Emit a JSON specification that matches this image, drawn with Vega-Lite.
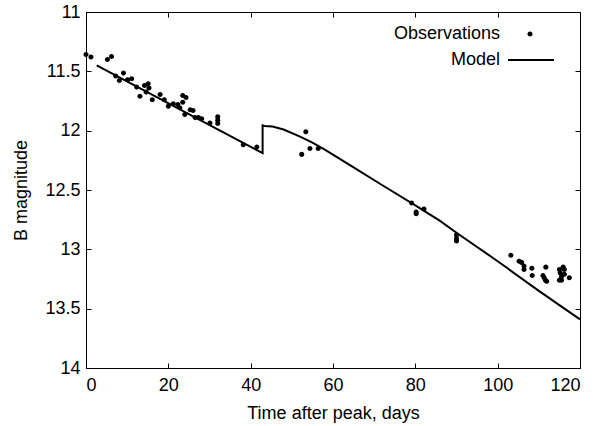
{
  "$schema": "https://vega.github.io/schema/vega-lite/v6.json",
  "width": 494,
  "height": 356,
  "autosize": "none",
  "padding": {"left": 86, "top": 12, "right": 25, "bottom": 58},
  "background": "white",
  "config": {
    "view": {"stroke": "black", "strokeWidth": 1},
    "font": "Liberation Sans",
    "axis": {
      "domain": false,
      "grid": false,
      "ticks": true,
      "tickColor": "black",
      "tickWidth": 1,
      "tickSize": 5,
      "offset": -5,
      "labelColor": "black",
      "labelFont": "Liberation Sans",
      "labelFontSize": 18,
      "titleFont": "Liberation Sans",
      "titleFontSize": 18,
      "titleFontWeight": "normal",
      "titleColor": "black"
    }
  },
  "datasets": {
    "model": [
      {"kind": "Model", "i": 0, "day": 2.6, "mag": 11.45},
      {"kind": "Model", "i": 1, "day": 42.9, "mag": 12.19},
      {"kind": "Model", "i": 2, "day": 42.9, "mag": 11.955},
      {"kind": "Model", "i": 3, "day": 43.4, "mag": 11.96},
      {"kind": "Model", "i": 4, "day": 45.3, "mag": 11.965},
      {"kind": "Model", "i": 5, "day": 48, "mag": 11.99},
      {"kind": "Model", "i": 6, "day": 52, "mag": 12.05},
      {"kind": "Model", "i": 7, "day": 55, "mag": 12.1},
      {"kind": "Model", "i": 8, "day": 58, "mag": 12.16},
      {"kind": "Model", "i": 9, "day": 65, "mag": 12.31},
      {"kind": "Model", "i": 10, "day": 72, "mag": 12.46},
      {"kind": "Model", "i": 11, "day": 80, "mag": 12.63},
      {"kind": "Model", "i": 12, "day": 86, "mag": 12.76},
      {"kind": "Model", "i": 13, "day": 90, "mag": 12.86},
      {"kind": "Model", "i": 14, "day": 100, "mag": 13.1},
      {"kind": "Model", "i": 15, "day": 110, "mag": 13.35},
      {"kind": "Model", "i": 16, "day": 120, "mag": 13.59}
    ],
    "obs": [
      {"series": "Observations", "day": 0, "mag": 11.358},
      {"series": "Observations", "day": 1.2, "mag": 11.38},
      {"series": "Observations", "day": 5.2, "mag": 11.4},
      {"series": "Observations", "day": 6.2, "mag": 11.375},
      {"series": "Observations", "day": 7.2, "mag": 11.54},
      {"series": "Observations", "day": 8.1, "mag": 11.577},
      {"series": "Observations", "day": 9.1, "mag": 11.515},
      {"series": "Observations", "day": 10.1, "mag": 11.571},
      {"series": "Observations", "day": 11.1, "mag": 11.563},
      {"series": "Observations", "day": 12.3, "mag": 11.633},
      {"series": "Observations", "day": 13.1, "mag": 11.71},
      {"series": "Observations", "day": 14.2, "mag": 11.62},
      {"series": "Observations", "day": 14.6, "mag": 11.675},
      {"series": "Observations", "day": 15.1, "mag": 11.605},
      {"series": "Observations", "day": 15.3, "mag": 11.64},
      {"series": "Observations", "day": 16.1, "mag": 11.74},
      {"series": "Observations", "day": 18.0, "mag": 11.695},
      {"series": "Observations", "day": 19.0, "mag": 11.74},
      {"series": "Observations", "day": 20.0, "mag": 11.795},
      {"series": "Observations", "day": 21.2, "mag": 11.773},
      {"series": "Observations", "day": 22.3, "mag": 11.78},
      {"series": "Observations", "day": 22.8, "mag": 11.807},
      {"series": "Observations", "day": 23.5, "mag": 11.703},
      {"series": "Observations", "day": 24.3, "mag": 11.72},
      {"series": "Observations", "day": 23.5, "mag": 11.76},
      {"series": "Observations", "day": 24.0, "mag": 11.863},
      {"series": "Observations", "day": 25.3, "mag": 11.823},
      {"series": "Observations", "day": 26.0, "mag": 11.83},
      {"series": "Observations", "day": 26.5, "mag": 11.89},
      {"series": "Observations", "day": 27.3, "mag": 11.89},
      {"series": "Observations", "day": 28.1, "mag": 11.9},
      {"series": "Observations", "day": 30.1, "mag": 11.936},
      {"series": "Observations", "day": 32.0, "mag": 11.884},
      {"series": "Observations", "day": 32.0, "mag": 11.912},
      {"series": "Observations", "day": 32.0, "mag": 11.94},
      {"series": "Observations", "day": 38.2, "mag": 12.118},
      {"series": "Observations", "day": 41.5, "mag": 12.138},
      {"series": "Observations", "day": 53.4, "mag": 12.01},
      {"series": "Observations", "day": 52.4, "mag": 12.2},
      {"series": "Observations", "day": 54.4, "mag": 12.15},
      {"series": "Observations", "day": 56.4, "mag": 12.15},
      {"series": "Observations", "day": 79.1, "mag": 12.61},
      {"series": "Observations", "day": 80.2, "mag": 12.685},
      {"series": "Observations", "day": 80.2, "mag": 12.7},
      {"series": "Observations", "day": 82.1, "mag": 12.66},
      {"series": "Observations", "day": 90.0, "mag": 12.88},
      {"series": "Observations", "day": 90.0, "mag": 12.91},
      {"series": "Observations", "day": 90.0, "mag": 12.93},
      {"series": "Observations", "day": 103.2, "mag": 13.05},
      {"series": "Observations", "day": 105.2, "mag": 13.1},
      {"series": "Observations", "day": 105.8, "mag": 13.11},
      {"series": "Observations", "day": 106.4, "mag": 13.14},
      {"series": "Observations", "day": 106.4, "mag": 13.17},
      {"series": "Observations", "day": 108.3, "mag": 13.16},
      {"series": "Observations", "day": 108.4, "mag": 13.22},
      {"series": "Observations", "day": 111.0, "mag": 13.22},
      {"series": "Observations", "day": 111.3, "mag": 13.24},
      {"series": "Observations", "day": 111.6, "mag": 13.26},
      {"series": "Observations", "day": 111.9, "mag": 13.27},
      {"series": "Observations", "day": 111.7, "mag": 13.15},
      {"series": "Observations", "day": 115.0, "mag": 13.17},
      {"series": "Observations", "day": 115.2, "mag": 13.2},
      {"series": "Observations", "day": 115.5, "mag": 13.23},
      {"series": "Observations", "day": 115.5, "mag": 13.26},
      {"series": "Observations", "day": 115.9, "mag": 13.15},
      {"series": "Observations", "day": 116.2, "mag": 13.17},
      {"series": "Observations", "day": 116.2, "mag": 13.21},
      {"series": "Observations", "day": 115.0, "mag": 13.26},
      {"series": "Observations", "day": 117.4, "mag": 13.24}
    ]
  },
  "layer": [
    {
      "data": {"name": "model"},
      "mark": {"type": "line", "strokeWidth": 2},
      "encoding": {
        "x": {"field": "day", "type": "quantitative", "scale": {"domain": [0, 120], "nice": false},
              "axis": {"orient": "top", "labels": false, "title": null, "values": [0, 20, 40, 60, 80, 100, 120]}},
        "y": {"field": "mag", "type": "quantitative", "scale": {"domain": [11, 14], "reverse": true, "nice": false, "zero": false},
              "axis": {"orient": "right", "labels": false, "title": null, "values": [11, 11.5, 12, 12.5, 13, 13.5, 14]}},
        "order": {"field": "i", "type": "quantitative"},
        "color": {"field": "kind", "type": "nominal", "scale": {"domain": ["Model"], "range": ["black"]},
          "legend": {
            "title": null, "orient": "none", "legendX": 421, "legendY": 24, "padding": 0,
            "symbolType": "stroke", "symbolSize": 2116, "symbolStrokeWidth": 2, "symbolStrokeColor": "black",
            "labelAlign": "right", "labelOffset": -55, "labelFont": "Liberation Sans", "labelFontSize": 18,
            "labelColor": "black", "labelLimit": 300
          }
        }
      }
    },
    {
      "data": {"name": "obs"},
      "mark": {"type": "point", "filled": true, "color": "black", "opacity": 1, "size": 2116},
      "encoding": {
        "x": {"field": "day", "type": "quantitative", "scale": {"domain": [0, 120], "nice": false},
              "axis": {"orient": "bottom", "title": "Time after peak, days", "values": [0, 20, 40, 60, 80, 100, 120], "labelPadding": 8, "titlePadding": 10}},
        "y": {"field": "mag", "type": "quantitative", "scale": {"domain": [11, 14], "reverse": true, "nice": false, "zero": false},
              "axis": {"orient": "left", "title": "B magnitude", "format": "~g", "values": [11, 11.5, 12, 12.5, 13, 13.5, 14], "labelPadding": 6, "titlePadding": 14}},
        "shape": {
          "field": "series", "type": "nominal",
          "scale": {"domain": ["Observations"], "range": ["M -0.11 0 A 0.11 0.11 0 1 0 0.11 0 A 0.11 0.11 0 1 0 -0.11 0 Z"]},
          "legend": {
            "title": null, "orient": "none", "legendX": 421, "legendY": -1, "padding": 0,
            "symbolSize": 2116, "symbolFillColor": "black", "symbolStrokeWidth": 0, "symbolOpacity": 1,
            "labelAlign": "right", "labelOffset": -53, "labelFont": "Liberation Sans", "labelFontSize": 18,
            "labelColor": "black", "labelLimit": 300
          }
        }
      }
    }
  ],
  "resolve": {"axis": {"x": "independent", "y": "independent"}}
}
